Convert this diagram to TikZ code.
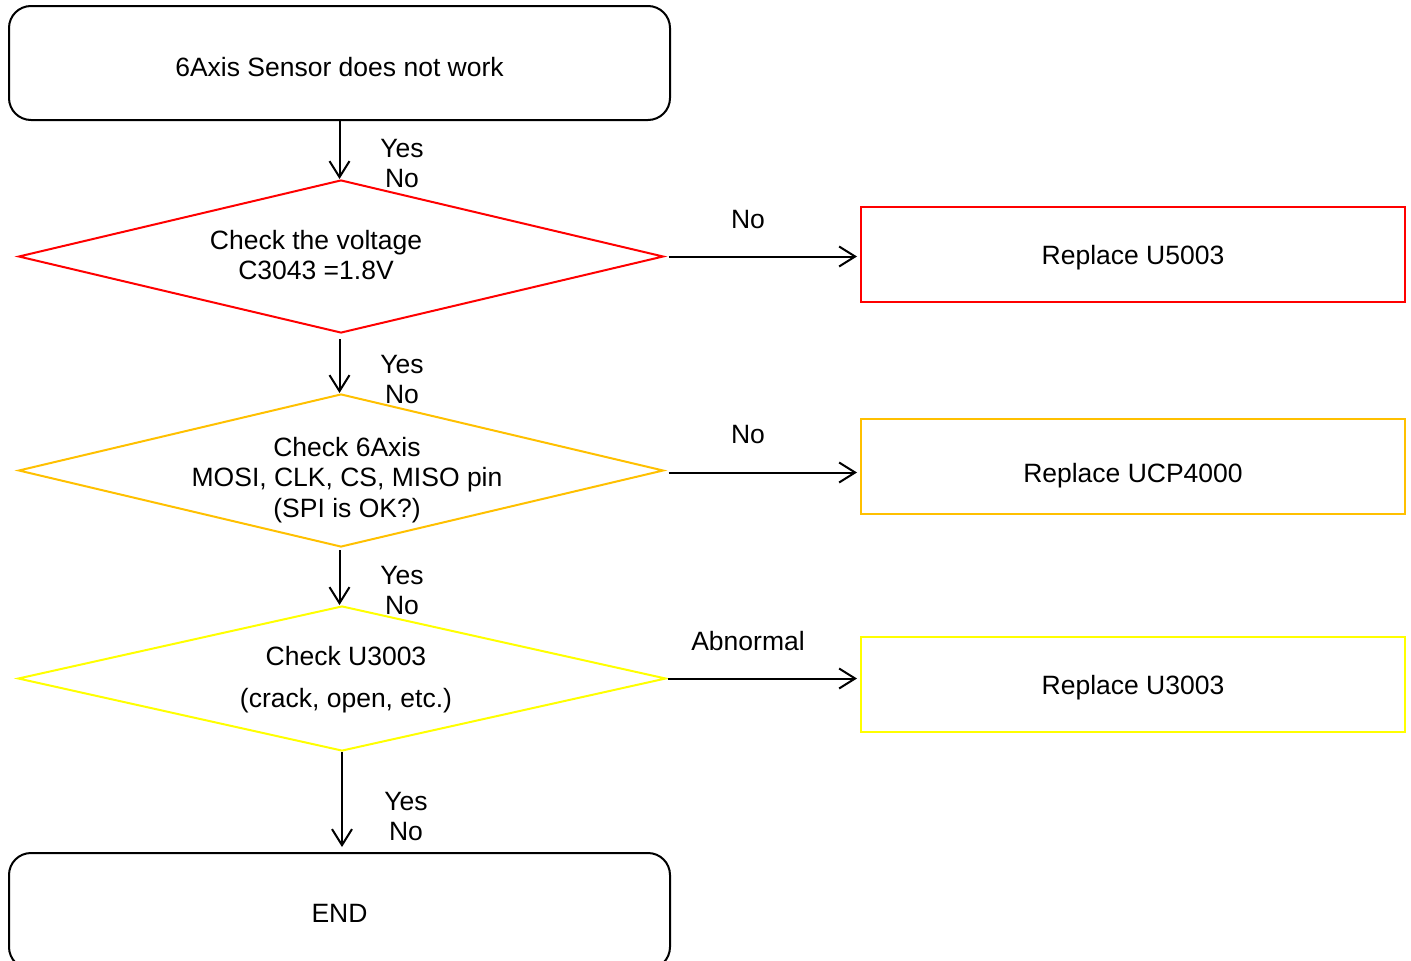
\documentclass[tikz,border=0pt]{standalone}
\usepackage{fontspec}
\setmainfont{Liberation Sans}
\usetikzlibrary{shapes.geometric,arrows.meta}
\definecolor{cred}{HTML}{FF0000}
\definecolor{corange}{HTML}{FFC000}
\definecolor{cyellow}{HTML}{FFFF00}
\newcommand{\lowerby}[2]{\raisebox{-#1}[\height][\depth]{#2}}
\begin{document}
\begin{tikzpicture}[x=1pt,y=-1pt,
 every node/.style={font=\fontsize{26.5}{30.5}\selectfont, inner sep=0pt},
 termbox/.style={draw=black, line width=2pt, rounded corners=22pt, minimum width=661pt, minimum height=114pt},
 dia/.style={diamond, draw, line width=2pt, minimum width=645pt, minimum height=153pt},
 outbox/.style={draw, line width=2pt, minimum width=544pt, minimum height=95pt},
 flow/.style={draw=black, line width=2pt, -{Straight Barb[length=16pt,width=20pt,line width=2pt]}},
 lbl/.style={align=center}
]
\useasboundingbox (0,0) rectangle (1411,961);
\clip (0,0) rectangle (1411,961);

\node[termbox] (start) at (339.5,63) {\lowerby{4pt}{6Axis Sensor does not work}};

\node[dia, draw=cred] (d1) at (341,256.5) {};
\node[lbl] (t1) at (316,255) {Check the voltage\\C3043 =1.8V};
\node[outbox, draw=cred] (r1) at (1133,254.5) {\lowerby{3pt}{Replace U5003}};

\node[dia, draw=corange] (d2) at (341,470.5) {};
\node[lbl] (t2) at (347,480) {Check 6Axis\\MOSI, CLK, CS, MISO pin\\(SPI is OK?)};
\node[outbox, draw=corange] (r2) at (1133,466.5) {\lowerby{9pt}{Replace UCP4000}};

\node[dia, draw=cyellow, minimum width=648pt, minimum height=145pt] (d3) at (342,678.5) {};
\node[lbl] (t3) at (346,679.5) {Check U3003\\[12pt](crack, open, etc.)};
\node[outbox, draw=cyellow] (r3) at (1133,684.5) {\lowerby{3pt}{Replace U3003}};

\node[termbox, minimum height=116pt] (end) at (339.5,911) {\lowerby{2pt}{END}};

% vertical connectors
\draw[flow] (start.south) -- (start.south |- d1.north);
\draw[flow, shorten <=5pt] (d1.south -| start.south) -- (d2.north -| start.south);
\draw[flow, shorten <=2pt] (d2.south -| start.south) -- (d3.north -| start.south);
\draw[flow, shorten >=5pt] (d3.south) -- (d3.south |- end.north);

% horizontal connectors
\draw[flow, shorten <=4pt, shorten >=3pt] (d1.east) -- (d1.east -| r1.west);
\draw[flow, shorten <=4pt, shorten >=3pt] ([yshift=-2pt]d2.east) -- ([yshift=-2pt]d2.east -| r2.west);
\draw[flow, shorten <=1pt, shorten >=3pt] (d3.east) -- (d3.east -| r3.west);

% labels
\node[lbl] (y1) at (402,163.5) {Yes\\No};
\node[lbl] (y2) at (402,379.5) {Yes\\No};
\node[lbl] (y3) at (402,590.5) {Yes\\No};
\node[lbl] (y4) at (406,816.5) {Yes\\No};
\node (n1) at (748,220) {No};
\node (n2) at (748,435) {No};
\node (n3) at (748,641) {Abnormal};
\end{tikzpicture}
\end{document}
